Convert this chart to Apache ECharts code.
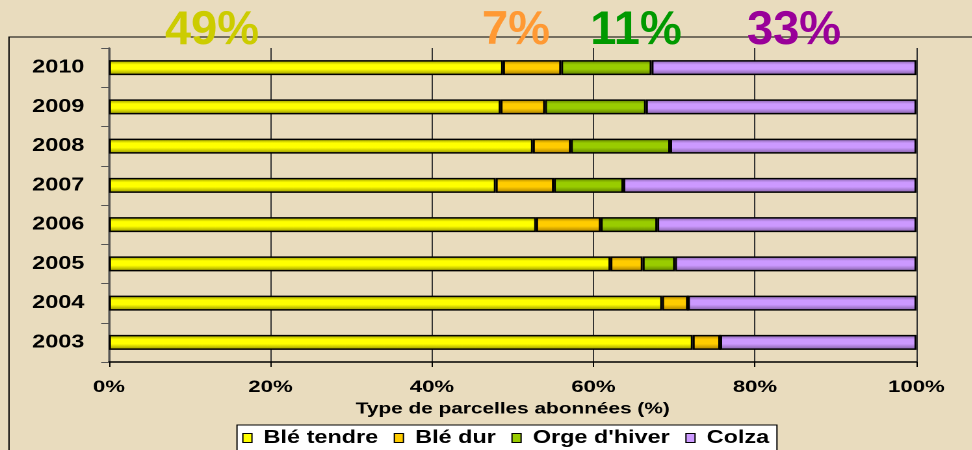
<!DOCTYPE html>
<html><head><meta charset="utf-8">
<script src="https://cdn.jsdelivr.net/npm/echarts@6/dist/echarts.min.js"></script>
<style>
html,body{margin:0;padding:0;background:#E9DCBE;overflow:hidden}
#wrap{width:972px;height:450px;overflow:hidden;position:relative}
#c{width:747.7px;height:450px;transform:scaleX(1.3);transform-origin:0 0;position:absolute;left:0;top:0}
</style>
</head><body><div id="wrap"><div id="c"></div></div>
<script>
const years = ['2010','2009','2008','2007','2006','2005','2004','2003'];
const bleTendre = [48.8, 48.5, 52.5, 47.9, 52.9, 62.1, 68.5, 72.3];
const bleDur    = [7.2, 5.5, 4.7, 7.2, 8.0, 4.0, 3.2, 3.4];
const orge      = [11.2, 12.5, 12.3, 8.6, 7.0, 4.0, 0, 0];
const colza     = [32.8, 33.5, 30.5, 36.3, 32.1, 29.9, 28.3, 24.3];
const seriesNames = ['Blé tendre','Blé dur',"Orge d'hiver",'Colza'];
const xTicks = [0,20,40,60,80,100];
const headline = ['49%','7%','11%','33%'];

const S = 1.3; // horizontal stretch of the original slide
const FONT = 'Liberation Sans, Arial, sans-serif';
const base = ['#FFFF00','#FFCC00','#99CC00','#CC99FF'];
const dark = ['#8C8C00','#A07800','#5A7800','#7E5C9E'];
function grad(i){
  return new echarts.graphic.LinearGradient(0,0,0,1,[
    {offset:0,color:dark[i]},{offset:0.3,color:base[i]},{offset:0.6,color:base[i]},{offset:1,color:dark[i]}]);
}
const vals = [bleTendre, bleDur, orge, colza];
const chart = echarts.init(document.getElementById('c'), null, {renderer:'canvas', devicePixelRatio:2});
const headColors = ['#CCCC00','#FF9933','#009900','#990099'];
const headX = [212, 516, 636, 794];
chart.setOption({
  backgroundColor:'#E9DCBE',
  animation:false,
  grid:{left:109/S,right:56/S,top:48,bottom:88},
  xAxis:{type:'value',min:xTicks[0],max:xTicks[xTicks.length-1],interval:20,
    name:'Type de parcelles abonnées (%)',nameLocation:'middle',nameGap:38,
    nameTextStyle:{fontFamily:FONT,fontWeight:'bold',fontSize:16,color:'#000'},
    axisLine:{show:true,lineStyle:{color:'#000',width:1.5}},
    axisTick:{show:true,length:5,lineStyle:{color:'#000'}},
    axisLabel:{formatter:v=>v+'%',fontFamily:FONT,fontWeight:'bold',fontSize:17,color:'#000',margin:17},
    splitLine:{show:true,lineStyle:{color:'#333',width:1}}
  },
  yAxis:{type:'category',data:years,inverse:true,
    axisLine:{show:true,lineStyle:{color:'#555',width:1.5}},
    axisTick:{show:true,length:6,lineStyle:{color:'#555'}},
    axisLabel:{fontFamily:FONT,fontWeight:'bold',fontSize:18,color:'#000',margin:19}
  },
  legend:{left:237/S,top:425,itemWidth:7,itemHeight:9,itemGap:12,icon:'rect',
    backgroundColor:'#fff',borderColor:'#000',borderWidth:1,padding:[4,6,12,4],
    textStyle:{fontFamily:FONT,fontWeight:'bold',fontSize:18,color:'#000',padding:[0,0,0,4]},
    data:seriesNames.map((n,i)=>({name:n,itemStyle:{color:base[i],borderColor:'#000',borderWidth:1}}))
  },
  series:seriesNames.map((n,i)=>({
    name:n,type:'bar',stack:'s',barWidth:15,data:vals[i],
    itemStyle:{color:grad(i),borderColor:'#000',borderWidth:1.5}
  })),
  graphic:[
    {type:'rect',x:9/S,y:37,shape:{x:0,y:0,width:1000,height:500},style:{fill:'none',stroke:'#000',lineWidth:1},silent:true,z:-1},
    ...headline.map((t,i)=>({type:'text',x:headX[i]/S,y:31,scaleX:1/S,z:100,
      style:{text:t,fill:headColors[i],font:'bold 47px '+FONT,textAlign:'center',textVerticalAlign:'middle'}}))
  ]
});
</script></body></html>
